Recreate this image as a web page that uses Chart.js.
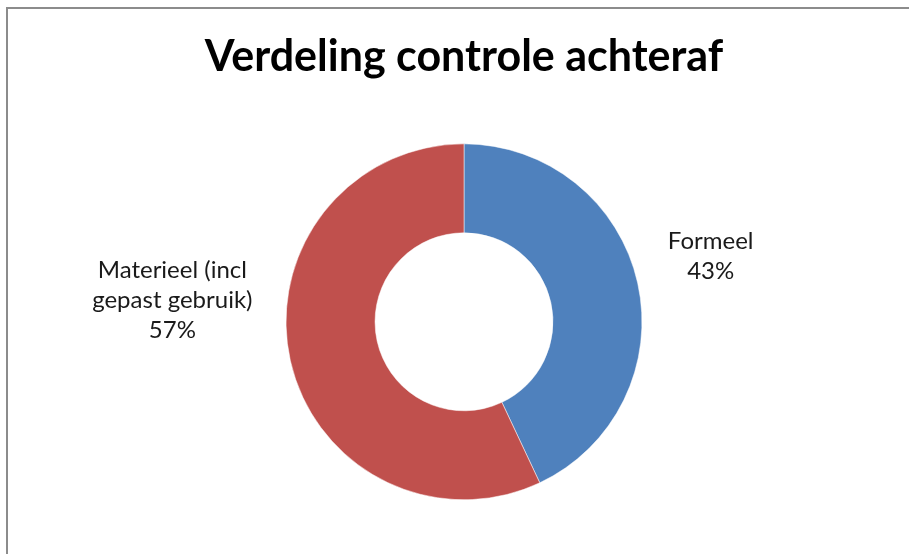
<!DOCTYPE html>
<html>
<head>
<meta charset="utf-8">
<script src="https://cdn.jsdelivr.net/npm/chart.js@4/dist/chart.umd.min.js"></script>
<style>
  html, body { margin: 0; padding: 0; background: #fff; }
  #wrap { position: relative; width: 909px; height: 554px; }
</style>
</head>
<body>
<div id="wrap"><canvas id="c" width="909" height="554"></canvas></div>
<script>
const chartTitle = 'Verdeling controle achteraf';
const categories = ['Formeel', 'Materieel (incl gepast gebruik)'];
const categoryLines = [['Formeel'], ['Materieel (incl', 'gepast gebruik)']];
const values = [43, 57];
const colors = ['#4F81BD', '#C0504D'];

const labelFont = '24px Lato, "Open Sans", sans-serif';
const labelOffsets = [[73, -27], [-118, -60]];

const framePlugin = {
  id: 'frame',
  beforeDraw(chart) {
    const ctx = chart.ctx;
    ctx.save();
    ctx.fillStyle = '#fff';
    ctx.fillRect(0, 0, chart.width, chart.height);
    ctx.fillStyle = '#8c8c8c';
    ctx.fillRect(6, 7, chart.width - 6, 2);
    ctx.fillRect(6, 7, 2, chart.height - 7);
    ctx.restore();
  }
};

const labelPlugin = {
  id: 'sliceLabels',
  afterDatasetsDraw(chart) {
    const ctx = chart.ctx;
    const meta = chart.getDatasetMeta(0);
    const total = values.reduce((a, b) => a + b, 0);
    ctx.save();
    ctx.font = labelFont;
    ctx.fillStyle = '#1a1a1a';
    ctx.textAlign = 'center';
    ctx.textBaseline = 'middle';
    meta.data.forEach((arc, i) => {
      const p = arc.getProps(['x', 'y', 'startAngle', 'endAngle', 'outerRadius'], true);
      const mid = (p.startAngle + p.endAngle) / 2;
      const ax = p.x + Math.cos(mid) * p.outerRadius + labelOffsets[i][0];
      const ay = p.y + Math.sin(mid) * p.outerRadius + labelOffsets[i][1];
      const lines = categoryLines[i].concat([Math.round(values[i] / total * 100) + '%']);
      const lh = 30;
      const top = ay - (lines.length - 1) * lh / 2;
      lines.forEach((t, j) => ctx.fillText(t, ax, top + j * lh));
    });
    ctx.restore();
  }
};

new Chart(document.getElementById('c'), {
  type: 'doughnut',
  data: {
    labels: categories,
    datasets: [{
      data: values,
      backgroundColor: colors,
      borderColor: '#ffffff',
      borderWidth: 0.5,
      hoverOffset: 0
    }]
  },
  options: {
    responsive: false,
    animation: false,
    cutout: '50%',
    layout: { padding: { top: 24, left: 19, right: 0, bottom: 54 } },
    plugins: {
      legend: { display: false },
      tooltip: { enabled: false },
      title: {
        display: true,
        text: chartTitle,
        color: '#000',
        font: { family: 'Lato, "Open Sans", sans-serif', size: 43, weight: 'bold' },
        padding: { top: 7, bottom: 61 }
      }
    }
  },
  plugins: [framePlugin, labelPlugin]
});
</script>
</body>
</html>
